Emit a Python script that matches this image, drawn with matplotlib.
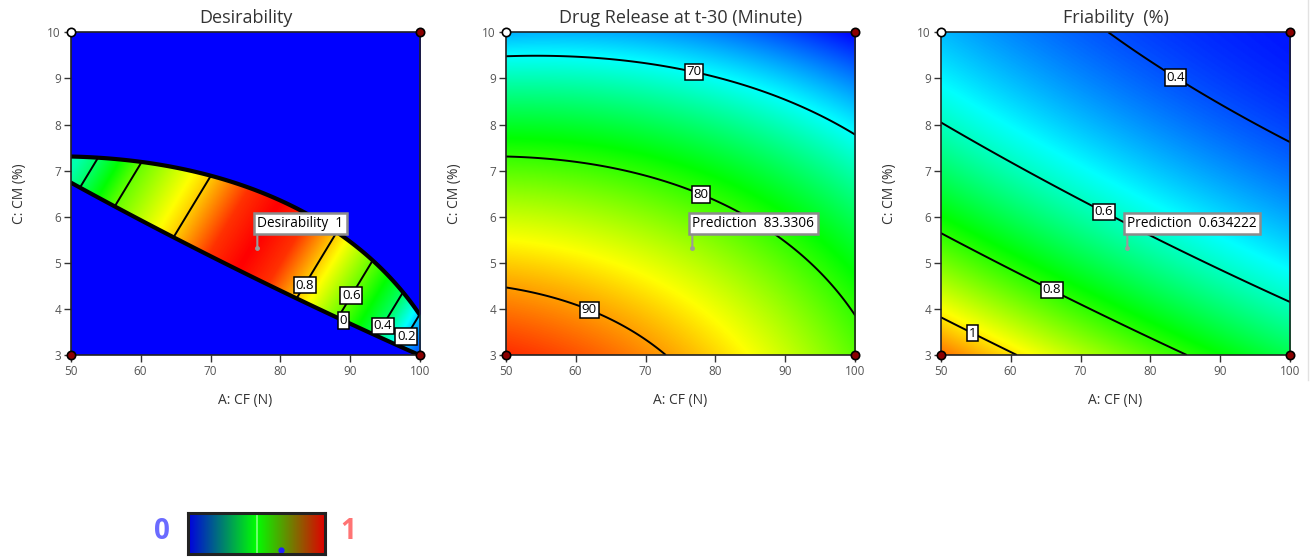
import numpy as np
import matplotlib
matplotlib.use("Agg")
import matplotlib.pyplot as plt
from matplotlib.colors import LinearSegmentedColormap

plt.rcParams["font.family"] = ["Open Sans", "DejaVu Sans"]

# design levels (coded -1, 0, +1)
cf_levels = [50, 75, 100]
cm_levels = [3, 6.5, 10]

# responses read at the design grid, rows = CM level, cols = CF level
release_at_design = [[93.8, 89.5, 81.3],
                     [83.2, 80.5, 74.0],
                     [67.3, 66.3, 61.4]]
friability_at_design = [[1.103, 0.879, 0.699],
                        [0.721, 0.562, 0.448],
                        [0.490, 0.397, 0.349]]

release_levels = [70, 80, 90]
friability_levels = [0.4, 0.6, 0.8, 1.0]
desirability_levels = [0.2, 0.4, 0.6, 0.8]

# colour ranges of the two response maps
release_range = (61.4, 95.3)
friability_range = (0.33, 1.2)

# limits that bound the feasible band
release_min = 80
friability_max = 0.7

# desirability along the band (band coordinate = CF - 4*(CM - 5))
band_pos = [42, 44.8, 51.4, 62.5, 69, 74.5, 80, 85.4, 93.0, 100.1, 104.4, 107]
band_desirability = [0.33, 0.4, 0.6, 0.8, 0.95, 1.0, 0.95, 0.8, 0.6, 0.4, 0.2, 0.1]

# optimum flag
pred_cf, pred_cm = 76.7, 5.33
pred_texts = ["Desirability  1", "Prediction  83.3306", "Prediction  0.634222"]

titles = ["Desirability", "Drug Release at t-30 (Minute)", "Friability  (%)"]
cf_ticks = [50, 60, 70, 80, 90, 100]
cm_ticks = [3, 4, 5, 6, 7, 8, 9, 10]

corner_cf = [50, 100, 50, 100]
corner_cm = [10, 10, 3, 3]
corner_open = [True, False, False, False]

bar_marker = 0.68


def coded(A, C):
    return (np.asarray(A) - 75) / 25.0, (np.asarray(C) - 6.5) / 3.5


def fit_quadratic(values):
    a, c = coded(*np.meshgrid(cf_levels, cm_levels))
    a, c = a.ravel(), c.ravel()
    X = np.column_stack([np.ones_like(a), a, c, a * c, a ** 2, c ** 2])
    return np.linalg.lstsq(X, np.ravel(values), rcond=None)[0]


def evaluate(coef, A, C):
    a, c = coded(A, C)
    return coef[0] + coef[1] * a + coef[2] * c + coef[3] * a * c + coef[4] * a ** 2 + coef[5] * c ** 2


field_cmap = LinearSegmentedColormap.from_list(
    "de", ["#0000ff", "#00ffff", "#00ff00", "#ffff00", "#ff0000"])
bar_cmap = LinearSegmentedColormap.from_list("bar", ["#0000e0", "#00ff00", "#e00000"])

A, C = np.meshgrid(np.linspace(50, 100, 600), np.linspace(3, 10, 600))
R = evaluate(fit_quadratic(release_at_design), A, C)
F = evaluate(fit_quadratic(friability_at_design), A, C)
inside = np.minimum(R - release_min, 43 * (friability_max - F))
d_band = np.interp(A - 4 * (C - 5), band_pos, band_desirability)
D = np.where(inside >= 0, d_band, 0.0)

fig = plt.figure(figsize=(13.15, 5.6), dpi=100)
lefts = [70.7 / 1315, 505.7 / 1315, 940.7 / 1315]
axes = [fig.add_axes([l, 205 / 560, 349.5 / 1315, 322.7 / 560]) for l in lefts]

label_style = dict(facecolor="white", edgecolor="black", linewidth=1.1, pad=1.3)


def style_labels(texts):
    for t in texts:
        t.set_rotation(0)
        t.set_bbox(label_style)
        t.set_fontsize(9.5)


# panel 1: desirability
ax = axes[0]
ax.imshow(D, extent=(50, 100, 3, 10), origin="lower", aspect="auto",
          cmap=field_cmap, vmin=0, vmax=1, interpolation="bilinear")
inner = ax.contour(A, C, np.ma.masked_where(inside < 0, d_band),
                   levels=desirability_levels, colors="black", linewidths=1.4)
edge = ax.contour(A, C, inside, levels=[0], colors="black", linewidths=3.0)
style_labels(ax.clabel(inner, inline=False, fmt="%g",
                       manual=[(81.5, 4.7), (89.5, 4.35), (93.3, 3.75), (97.0, 3.5)]))
style_labels(ax.clabel(edge, inline=False, fmt="%g", manual=[(89.3, 3.85)]))

# panel 2: drug release
ax = axes[1]
ax.imshow(R, extent=(50, 100, 3, 10), origin="lower", aspect="auto",
          cmap=field_cmap, vmin=release_range[0], vmax=release_range[1],
          interpolation="bilinear")
cs = ax.contour(A, C, R, levels=release_levels, colors="black", linewidths=1.4)
style_labels(ax.clabel(cs, inline=False, fmt="%g",
                       manual=[(77.0, 9.2), (78.0, 6.5), (62.0, 4.0)]))

# panel 3: friability
ax = axes[2]
ax.imshow(F, extent=(50, 100, 3, 10), origin="lower", aspect="auto",
          cmap=field_cmap, vmin=friability_range[0], vmax=friability_range[1],
          interpolation="bilinear")
cs = ax.contour(A, C, F, levels=friability_levels, colors="black", linewidths=1.4)
style_labels(ax.clabel(cs, inline=False, fmt="%g",
                       manual=[(83.5, 9.0), (73.5, 6.15), (66.5, 4.6), (55.0, 3.6)]))

for ax, title, ptext in zip(axes, titles, pred_texts):
    ax.set_xlim(50, 100)
    ax.set_ylim(3, 10)
    ax.set_xticks(cf_ticks)
    ax.set_yticks(cm_ticks)
    ax.tick_params(direction="out", length=5, width=1, color="#333333",
                   labelsize=8.5, labelcolor="#555555", pad=2)
    for sp in ax.spines.values():
        sp.set_color("#222222")
        sp.set_linewidth(1.2)
    ax.set_title(title, fontsize=13, color="#333333", pad=7)
    ax.set_xlabel("A: CF (N)", fontsize=10, color="#333333", labelpad=11)
    ax.set_ylabel("C: CM (%)", fontsize=10, color="#333333", labelpad=15)

    for x, y, is_open in zip(corner_cf, corner_cm, corner_open):
        ax.plot(x, y, "o", ms=6, mfc="white" if is_open else "#8b0000",
                mec="black", mew=1.2, clip_on=False, zorder=10)

    ax.annotate(ptext, xy=(pred_cf, pred_cm), xytext=(0, 12), textcoords="offset points",
                ha="left", va="bottom", fontsize=9.8, color="black",
                bbox=dict(boxstyle="square,pad=0.25", facecolor="white",
                          edgecolor="#8c8c8c", linewidth=1.8),
                arrowprops=dict(arrowstyle="-", color="#9a9a9a", lw=1.5,
                                relpos=(0, 0), shrinkA=0, shrinkB=0),
                zorder=12)
    ax.plot(pred_cf, pred_cm, "o", ms=2.5, color="#9a9a9a", zorder=12)

# colour key at the bottom
cax = fig.add_axes([188.3 / 1315, 6 / 560, 136.7 / 1315, 41.3 / 560])
cax.imshow(np.linspace(0, 1, 256)[None, :], cmap=bar_cmap, aspect="auto",
           extent=(0, 1, 0, 1))
cax.axvline(0.5, color="#80ff80", lw=1.2)
cax.plot(bar_marker, 0.1, "o", ms=3.5, color="#2020ff")
cax.set_xlim(0, 1)
cax.set_ylim(0, 1)
cax.set_xticks([])
cax.set_yticks([])
for sp in cax.spines.values():
    sp.set_color("#222222")
    sp.set_linewidth(2.2)
fig.text(161.7 / 1315, 1 - 531.7 / 560, "0", color="#6b6bff", fontsize=20,
         fontweight="bold", ha="center", va="center")
fig.text(348 / 1315, 1 - 531.7 / 560, "1", color="#ff7474", fontsize=20,
         fontweight="bold", ha="center", va="center")

fig.add_artist(plt.Line2D([1307.5 / 1315] * 2, [1 - 380 / 560, 1], color="#e2e2e2", lw=1))

fig.savefig("out.png", dpi=100, facecolor="white")
